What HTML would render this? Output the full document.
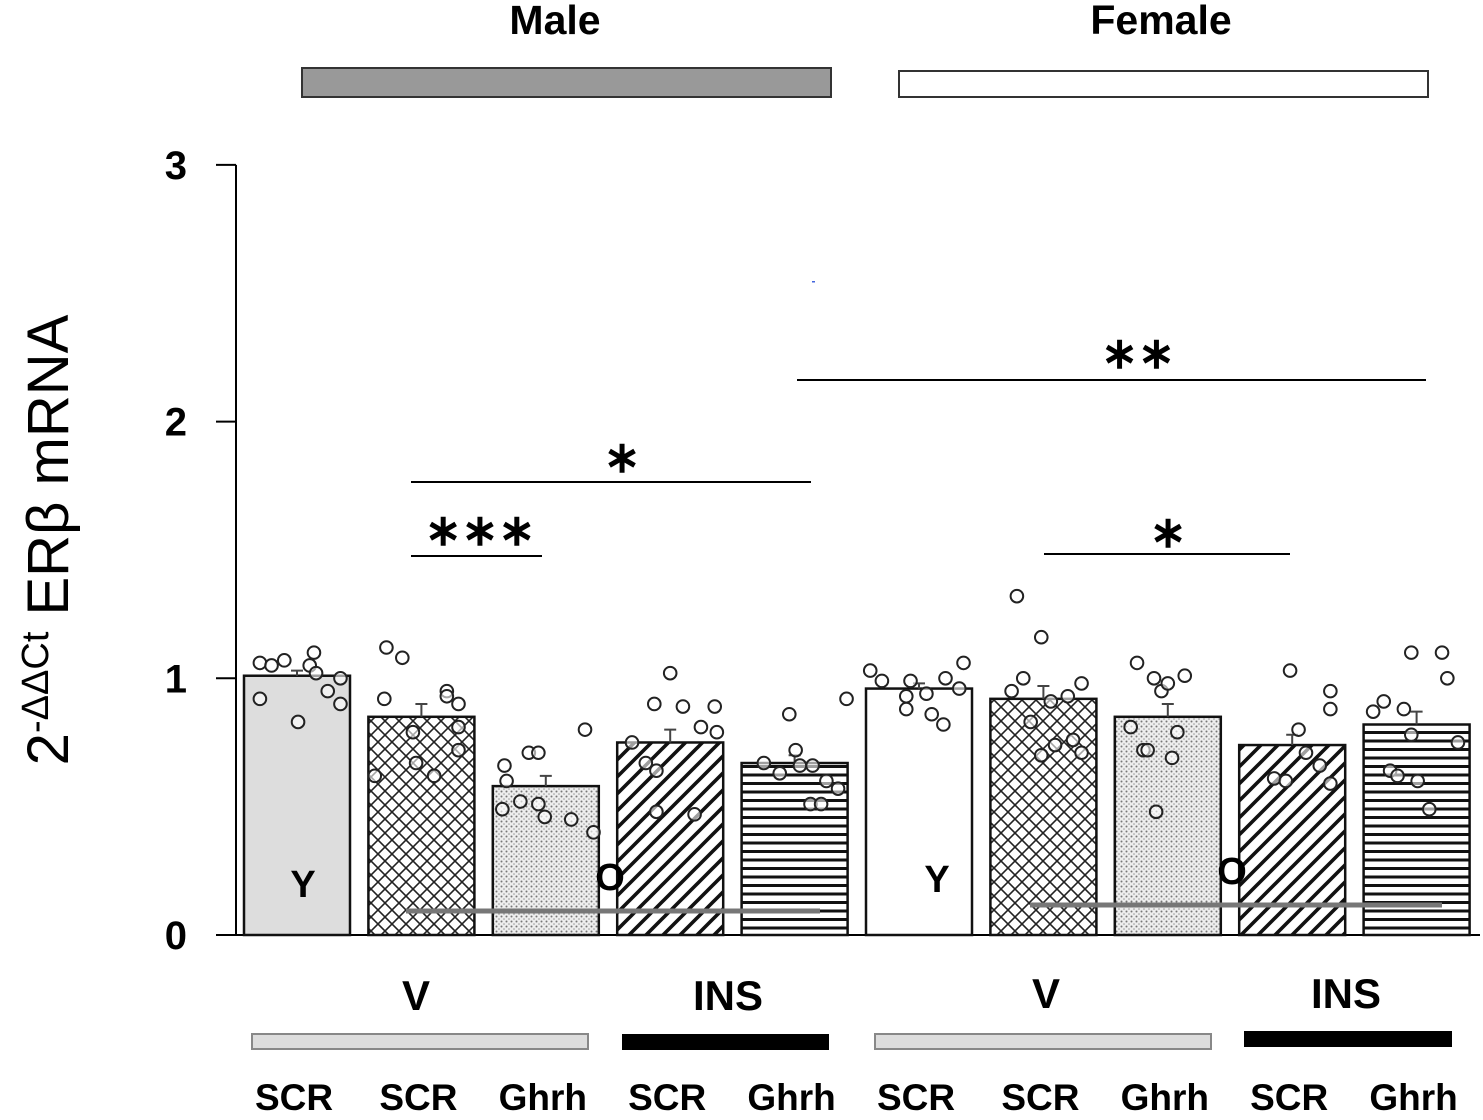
<!DOCTYPE html>
<html><head><meta charset="utf-8"><style>
html,body{margin:0;padding:0;background:#fff;}
svg{display:block;font-family:"Liberation Sans",sans-serif;}
</style></head><body>
<svg id="chart" width="1483" height="1120" viewBox="0 0 1483 1120">
<defs>
<pattern id="p-cross" width="14" height="14" patternUnits="userSpaceOnUse">
<rect width="14" height="14" fill="#fff"/>
<path d="M0,0L14,14M14,0L0,14" stroke="#222" stroke-width="1.6"/>
</pattern>
<pattern id="p-dots" width="5" height="5" patternUnits="userSpaceOnUse">
<rect width="5" height="5" fill="#eee"/>
<circle cx="1.5" cy="1.5" r="1" fill="#777"/>
<circle cx="4" cy="4" r="0.8" fill="#999"/>
</pattern>
<pattern id="p-diag" width="17" height="17" patternUnits="userSpaceOnUse">
<rect width="17" height="17" fill="#fff"/>
<path d="M-4,4L4,-4M0,17L17,0M13,21L21,13" stroke="#111" stroke-width="3.6"/>
</pattern>
<pattern id="p-horiz" width="10" height="8.5" patternUnits="userSpaceOnUse">
<rect width="10" height="8.5" fill="#fff"/>
<rect y="0" width="10" height="3" fill="#111"/>
</pattern>
</defs>
<g id="static">
<text x="555" y="34" text-anchor="middle" font-size="41" font-weight="bold">Male</text>
<text x="1161" y="34" text-anchor="middle" font-size="41" font-weight="bold">Female</text>
<rect x="302" y="68" width="529" height="29" fill="#999" stroke="#333" stroke-width="2"/>
<rect x="899" y="71" width="529" height="26" fill="#fff" stroke="#333" stroke-width="2"/>
<text transform="translate(68,540) rotate(-90)" text-anchor="middle" font-size="58">2<tspan font-size="38" dy="-20">-ΔΔCt</tspan><tspan dy="20"> ERβ mRNA</tspan></text>
<rect x="812" y="281" width="3" height="1.5" fill="#4466dd"/>
</g>
<g id="axis"></g>
<g id="bars"></g>
<g id="annot" font-weight="bold">
<line x1="411" y1="556" x2="542" y2="556" stroke="#000" stroke-width="2"/>
<text x="480" y="545" text-anchor="middle" font-size="44">∗∗∗</text>
<line x1="411" y1="482" x2="811" y2="482" stroke="#000" stroke-width="2"/>
<text x="622" y="472" text-anchor="middle" font-size="44">∗</text>
<line x1="797" y1="380" x2="1426" y2="380" stroke="#000" stroke-width="2"/>
<text x="1138" y="368" text-anchor="middle" font-size="44">∗∗</text>
<line x1="1044" y1="554" x2="1290" y2="554" stroke="#000" stroke-width="2"/>
<text x="1168" y="547" text-anchor="middle" font-size="44">∗</text>
<text x="303" y="897" text-anchor="middle" font-size="38" font-weight="bold">Y</text>
<text x="610" y="890" text-anchor="middle" font-size="38" font-weight="bold">O</text>
<text x="937" y="892" text-anchor="middle" font-size="38" font-weight="bold">Y</text>
<text x="1232" y="884" text-anchor="middle" font-size="38" font-weight="bold">O</text>
<line x1="406" y1="911" x2="820" y2="911" stroke="#777" stroke-width="5"/>
<line x1="1030" y1="905" x2="1442" y2="905" stroke="#777" stroke-width="5"/>
<text x="416" y="1010" text-anchor="middle" font-size="42" font-weight="bold">V</text>
<text x="728" y="1010" text-anchor="middle" font-size="42" font-weight="bold">INS</text>
<text x="1046" y="1008" text-anchor="middle" font-size="42" font-weight="bold">V</text>
<text x="1346" y="1008" text-anchor="middle" font-size="42" font-weight="bold">INS</text>
<rect x="252" y="1034" width="336" height="15" fill="#ddd" stroke="#888" stroke-width="2"/>
<rect x="622" y="1034" width="207" height="16" fill="#000"/>
<rect x="875" y="1034" width="336" height="15" fill="#ddd" stroke="#888" stroke-width="2"/>
<rect x="1244" y="1031" width="208" height="16" fill="#000"/>
</g>
<g id="xlabels"></g>
</svg>
<script>
const categories = ["SCR","SCR","Ghrh","SCR","Ghrh","SCR","SCR","Ghrh","SCR","Ghrh"];
const means = [1.01,0.85,0.58,0.75,0.67,0.96,0.92,0.85,0.74,0.82];
const errors = [0.02,0.05,0.04,0.05,0.03,0.02,0.05,0.05,0.04,0.05];
const fills = ["#ddd","url(#p-cross)","url(#p-dots)","url(#p-diag)","url(#p-horiz)","#fff","url(#p-cross)","url(#p-dots)","url(#p-diag)","url(#p-horiz)"];
const yTicks = [0,1,2,3];
const pts0 = [1.06,1.05,1.07,1.10,1.05,1.02,1.00,0.92,0.83,0.95,0.90];
const pts1 = [1.12,1.08,0.92,0.95,0.93,0.90,0.79,0.81,0.67,0.62,0.62,0.72];
const pts2 = [0.66,0.60,0.71,0.71,0.80,0.49,0.52,0.51,0.46,0.45,0.40];
const pts3 = [1.02,0.90,0.89,0.89,0.81,0.79,0.75,0.67,0.64,0.48,0.47];
const pts4 = [0.92,0.86,0.72,0.67,0.63,0.66,0.66,0.60,0.57,0.51,0.51];
const pts5 = [1.03,0.99,0.99,0.94,0.93,0.88,0.86,0.82,1.00,0.96,1.06];
const pts6 = [1.32,1.16,1.00,0.95,0.98,0.93,0.91,0.83,0.76,0.74,0.71,0.70];
const pts7 = [1.06,1.00,0.95,0.98,1.01,0.81,0.79,0.72,0.69,0.48,0.72];
const pts8 = [1.03,0.95,0.88,0.80,0.71,0.66,0.61,0.60,0.59];
const pts9 = [1.10,1.10,1.00,0.87,0.91,0.88,0.78,0.75,0.64,0.62,0.60,0.49];
const jit0 = [-0.35,-0.24,-0.12,0.16,0.12,0.18,0.41,-0.35,0.01,0.29,0.41];
const jit1 = [-0.33,-0.18,-0.35,0.24,0.24,0.35,-0.08,0.35,-0.05,0.12,-0.44,0.35];
const jit2 = [-0.39,-0.37,-0.16,-0.07,0.37,-0.41,-0.24,-0.07,-0.01,0.24,0.45];
const jit3 = [0,-0.15,0.12,0.42,0.29,0.44,-0.36,-0.23,-0.13,-0.13,0.23];
const jit4 = [0.49,-0.05,0.01,-0.29,-0.14,0.05,0.17,0.30,0.41,0.15,0.25];
const jit5 = [-0.46,-0.35,-0.08,0.07,-0.12,-0.12,0.12,0.23,0.25,0.38,0.42];
const jit6 = [-0.25,-0.02,-0.19,-0.30,0.36,0.23,0.07,-0.12,0.28,0.11,0.36,-0.02];
const jit7 = [-0.29,-0.13,-0.06,0,0.16,-0.35,0.09,-0.23,0.04,-0.11,-0.19];
const jit8 = [-0.02,0.36,0.36,0.06,0.13,0.26,-0.17,-0.06,0.36];
const jit9 = [-0.05,0.24,0.29,-0.41,-0.31,-0.12,-0.05,0.39,-0.25,-0.18,0.01,0.12];
const points = [pts0,pts1,pts2,pts3,pts4,pts5,pts6,pts7,pts8,pts9];
const jitters = [jit0,jit1,jit2,jit3,jit4,jit5,jit6,jit7,jit8,jit9];

const NS = "http://www.w3.org/2000/svg";
const y0 = 935, pxPerUnit = 256.7, xStart = 297, step = 124.4, barW = 106;
function yScale(v){ return y0 - v*pxPerUnit; }
function xScale(i){ return xStart + i*step; }
function mk(tag, attrs, parent){ const e=document.createElementNS(NS,tag); for(const k in attrs) e.setAttribute(k,attrs[k]); parent.appendChild(e); return e; }

const axis = document.getElementById('axis');
let l = mk('line',{x1:236,y1:yScale(0),x2:1480,y2:yScale(0),stroke:'#000','stroke-width':2},axis);


l = mk('line',{x1:236,y1:yScale(3),x2:236,y2:yScale(0),stroke:'#000','stroke-width':2},axis);


yTicks.forEach(t=>{
  const tk = mk('line',{x1:216,y1:yScale(t),x2:236,y2:yScale(t),stroke:'#000','stroke-width':2},axis);
  
  
  const tx = mk('text',{x:187,y:yScale(t)+14,'text-anchor':'end','font-size':40,'font-weight':'bold'},axis);
  tx.textContent = t;
  
  
});

const bars = document.getElementById('bars');
means.forEach((m,i)=>{
  const cx = xScale(i);
  const r = mk('rect',{x:cx-barW/2,y:yScale(m),width:barW,height:yScale(0)-yScale(m),fill:fills[i],stroke:'#111','stroke-width':2.5},bars);
  
  
  const e = mk('path',{d:`M${cx},${yScale(m)}V${yScale(m+errors[i])}M${cx-6},${yScale(m+errors[i])}H${cx+6}`,stroke:'#444','stroke-width':2,fill:'none'},bars);
  
  
  points[i].forEach((v,j)=>{
    const c = mk('circle',{cx:cx+jitters[i][j]*barW,cy:yScale(v),r:6.3,fill:'#fff','fill-opacity':0.6,stroke:'#222','stroke-width':2},bars);
    
    
  });
});

const xl = document.getElementById('xlabels');
categories.forEach((c,i)=>{
  const t = mk('text',{x:xScale(i)-3,y:1110,'text-anchor':'middle','font-size':37,'font-weight':'bold'},xl);
  t.textContent = c;
  
  
});
</script>
</body></html>
